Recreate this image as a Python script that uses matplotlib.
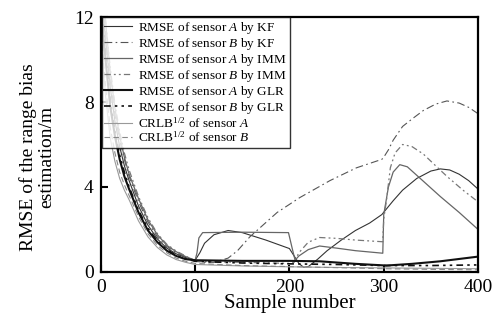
import matplotlib
matplotlib.use("Agg")
import matplotlib.pyplot as plt

plt.rcParams["font.family"] = ["Liberation Serif", "DejaVu Serif"]
plt.rcParams["mathtext.fontset"] = "custom"
plt.rcParams["mathtext.rm"] = "Liberation Serif"
plt.rcParams["mathtext.it"] = "Liberation Serif:italic"

# sample points of the early decay (shared x positions)
n_head = [0, 5, 10, 15, 20, 25, 30, 40, 50, 60, 70, 80, 90]

# RMSE of sensor A by KF
a_kf_n = n_head + [100, 105, 110, 120, 135, 150, 175, 200, 205, 210, 215, 220,
                   230, 240, 255, 270, 285, 298, 310, 320, 335, 350, 360, 370,
                   380, 390, 400]
a_kf_v = [13.5, 11.0, 8.7, 7.1, 5.9, 5.0, 4.3, 3.1, 2.2, 1.55, 1.12, 0.85, 0.68,
          0.55, 0.9, 1.35, 1.75, 1.95, 1.85, 1.5, 1.1, 0.75, 0.4, 0.22, 0.25,
          0.6, 1.0, 1.5, 1.95, 2.3, 2.7, 3.35, 3.85, 4.4, 4.75, 4.85, 4.8,
          4.6, 4.3, 3.9]

# RMSE of sensor B by KF
b_kf_n = n_head + [100, 110, 120, 135, 145, 158, 187, 211, 243, 271, 298, 300,
                   305, 310, 320, 330, 342, 355, 367, 380, 390, 400]
b_kf_v = [13.5, 11.2, 9.0, 7.4, 6.2, 5.3, 4.5, 3.3, 2.35, 1.65, 1.2, 0.9, 0.7,
          0.5, 0.45, 0.45, 0.65, 1.0, 1.65, 2.8, 3.5, 4.3, 4.9, 5.3, 5.4,
          5.75, 6.2, 6.85, 7.2, 7.6, 7.9, 8.05, 7.95, 7.75, 7.45]

# RMSE of sensor A by IMM
a_imm_n = n_head + [100, 102, 104, 108, 150, 199, 203, 206, 210, 220, 232, 250,
                    270, 299, 300, 305, 310, 317, 325, 340, 360, 380, 400]
a_imm_v = [14.0, 11.8, 9.4, 7.7, 6.4, 5.4, 4.6, 3.45, 2.45, 1.75, 1.25, 0.95,
           0.72, 0.55, 0.9, 1.6, 1.85, 1.87, 1.85, 1.1, 0.55, 0.75, 1.05, 1.22,
           1.12, 1.0, 0.88, 2.7, 4.0, 4.7, 5.05, 4.95, 4.35, 3.55, 2.8, 2.0]

# RMSE of sensor B by IMM
b_imm_n = n_head + [100, 150, 200, 205, 210, 220, 232, 250, 270, 299, 300, 303,
                    307, 312, 320, 330, 342, 355, 367, 384, 400]
b_imm_v = [14.0, 11.9, 9.6, 7.9, 6.6, 5.6, 4.8, 3.55, 2.55, 1.8, 1.3, 0.98,
           0.75, 0.5, 0.45, 0.4, 0.45, 0.9, 1.4, 1.62, 1.58, 1.5, 1.42, 2.5,
           3.4, 4.9, 5.6, 6.0, 5.9, 5.55, 5.0, 4.5, 3.85, 3.3]

# RMSE of sensor A by GLR
a_glr_n = n_head + [100, 150, 200, 232, 270, 303, 330, 360, 400]
a_glr_v = [12.5, 10.0, 7.8, 6.4, 5.3, 4.5, 3.9, 2.8, 1.95, 1.4, 1.0, 0.75, 0.6,
           0.55, 0.52, 0.52, 0.5, 0.38, 0.3, 0.38, 0.5, 0.72]

# RMSE of sensor B by GLR
b_glr_n = n_head + [100, 150, 200, 250, 300, 350, 400]
b_glr_v = [12.8, 10.3, 8.1, 6.6, 5.5, 4.7, 4.0, 2.9, 2.05, 1.45, 1.05, 0.78,
           0.62, 0.5, 0.42, 0.38, 0.35, 0.3, 0.3, 0.33]

# CRLB^(1/2) of sensor A
crlb_a_n = n_head + [100, 150, 200, 250, 300, 350, 400]
crlb_a_v = [11.0, 8.3, 6.3, 5.2, 4.4, 3.85, 3.4, 2.4, 1.65, 1.15, 0.8, 0.58,
            0.45, 0.35, 0.28, 0.24, 0.21, 0.19, 0.17, 0.15]

# CRLB^(1/2) of sensor B
crlb_b_n = n_head + [100, 150, 200, 250, 300, 350, 400]
crlb_b_v = [11.5, 8.8, 6.8, 5.6, 4.7, 4.1, 3.6, 2.6, 1.8, 1.25, 0.9, 0.65,
            0.5, 0.4, 0.3, 0.25, 0.2, 0.15, 0.12, 0.1]

labels = [
    "RMSE of sensor $A$ by KF",
    "RMSE of sensor $B$ by KF",
    "RMSE of sensor $A$ by IMM",
    "RMSE of sensor $B$ by IMM",
    "RMSE of sensor $A$ by GLR",
    "RMSE of sensor $B$ by GLR",
    "CRLB$^{1/2}$ of sensor $A$",
    "CRLB$^{1/2}$ of sensor $B$",
]

fig = plt.figure(figsize=(4.99, 3.28), dpi=100)
ax = fig.add_axes([0.202, 0.171, 0.756, 0.777])

ax.plot(a_kf_n, a_kf_v, color="#333333", lw=0.8, label=labels[0])
ax.plot(b_kf_n, b_kf_v, color="#555555", lw=0.8, ls=(0, (7, 3, 1.5, 3)),
        label=labels[1])
ax.plot(a_imm_n, a_imm_v, color="#666666", lw=0.9, label=labels[2])
ax.plot(b_imm_n, b_imm_v, color="#777777", lw=0.9,
        ls=(0, (5, 2.5, 1.5, 2.5, 1.5, 2.5)), label=labels[3])
ax.plot(a_glr_n, a_glr_v, color="#111111", lw=1.5, label=labels[4])
ax.plot(b_glr_n, b_glr_v, color="#111111", lw=1.2,
        ls=(0, (4, 2.5, 1.5, 2.5, 1.5, 2.5)), label=labels[5])
ax.plot(crlb_a_n, crlb_a_v, color="#999999", lw=0.8, label=labels[6])
ax.plot(crlb_b_n, crlb_b_v, color="#888888", lw=0.8, ls=(0, (5, 3)),
        label=labels[7])

ax.set_xlim(0, 400)
ax.set_ylim(0, 12)
ax.set_xticks([0, 100, 200, 300, 400])
ax.set_yticks([0, 4, 8, 12])
ax.tick_params(direction="in", length=5, width=1.5, labelsize=14, pad=5)
for s in ax.spines.values():
    s.set_linewidth(1.6)

ax.set_xlabel("Sample number", fontsize=15, labelpad=-1)
ax.set_ylabel("RMSE of the range bias\nestimation/m", fontsize=14,
              linespacing=1.1)
ax.yaxis.set_label_coords(-0.12, 0.45)

leg = ax.legend(loc="upper left", bbox_to_anchor=(0.002, 1.0), fontsize=9.5,
                frameon=True, fancybox=False, edgecolor="black",
                borderaxespad=0, borderpad=0.2, labelspacing=0.0,
                handlelength=2.1, handletextpad=0.5)
leg.get_frame().set_linewidth(1.0)

fig.savefig("out.png", dpi=100)
